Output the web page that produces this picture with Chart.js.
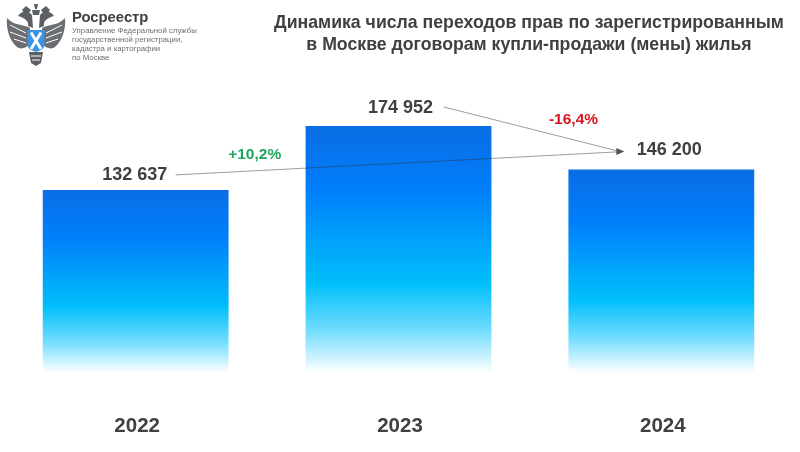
<!DOCTYPE html>
<html lang="ru">
<head>
<meta charset="utf-8">
<title>Динамика числа переходов прав</title>
<script src="https://cdn.jsdelivr.net/npm/chart.js@4"></script>
<style>
  body { margin: 0; background: #fff; font-family: "Liberation Sans", Arial, sans-serif; }
  #wrap { position: relative; width: 800px; height: 452px; overflow: hidden; }
  #chart { position: absolute; left: 0; top: 0; }
  .title { position: absolute; left: 259px; width: 540px; text-align: center; font-weight: bold; font-size: 17.7px; line-height: 22px; color: #404040; white-space: nowrap; }
  .brand { position: absolute; left: 72px; top: 9px; font: bold 14.8px "Liberation Sans", Arial, sans-serif; color: #3f3f3f; }
  .sub { position: absolute; left: 72px; top: 26px; font-size: 7.8px; line-height: 9.1px; color: #6f6f6f; white-space: nowrap; }
  svg { position: absolute; left: 6px; top: 2px; }
</style>
</head>
<body>
<div id="wrap">
  <canvas id="chart" width="800" height="452"></canvas>
  <svg width="60" height="66" viewBox="0 0 60 66">
    <!-- крылья -->
    <path d="M24 26 C18 22 8 24 1 16 C0 26 3 38 11 45 C15 48 20 46 24 42 Z" fill="#6b6f73"/>
    <path d="M36 26 C42 22 52 24 59 16 C60 26 57 38 49 45 C45 48 40 46 36 42 Z" fill="#6b6f73"/>
    <path d="M4 23 L20 31 M4 30 L20 36 M8 37 L20 41 M56 23 L40 31 M56 30 L40 36 M52 37 L40 41" stroke="#fff" stroke-width="1"/>
    <!-- головы и короны -->
    <path d="M12 14 C15 9 22 8 26 13 L27 26 L22 24 C23 19 19 16 12 14 Z" fill="#5c6064"/>
    <path d="M48 14 C45 9 38 8 34 13 L33 26 L38 24 C37 19 41 16 48 14 Z" fill="#5c6064"/>
    <path d="M16 8 L20 4 L25 8 L23 11 L18 11 Z M44 8 L40 4 L35 8 L37 11 L42 11 Z" fill="#5c6064"/>
    <path d="M26 8 L34 8 L33 13 L27 13 Z M28 2 L32 2 L31 7 L29 7 Z" fill="#5c6064"/>
    <!-- хвост и лапы -->
    <path d="M23 50 L37 50 L35 61 L30 64 L25 61 Z" fill="#5c6064"/>
    <path d="M25 54 L35 54 M26 58 L34 58" stroke="#fff" stroke-width="1"/>
    <!-- щит -->
    <path d="M21.5 28 L38.5 28 L38.5 43 C38.5 47 33 49 30 50 C27 49 21.5 47 21.5 43 Z" fill="#3d93e6"/>
    <path d="M25 30.5 L35 47 M35 30.5 L25 47" stroke="#fff" stroke-width="2.8"/>
  </svg>
  <div class="brand">Росреестр</div>
  <div class="sub">Управление Федеральной службы<br>государственной регистрации,<br>кадастра и картографии<br>по Москве</div>
  <div class="title" style="top:11px">Динамика числа переходов прав по зарегистрированным</div>
  <div class="title" style="top:33px">в Москве договорам купли-продажи (мены) жилья</div>
</div>
<script>
const years = ['2022', '2023', '2024'];
const deals = [132637, 174952, 146200];
const valueLabels = ['132 637', '174 952', '146 200'];
const changeLabels = ['+10,2%', '-16,4%'];

const textColor = '#404040';

// градиент считается для каждого столбика отдельно, низ уходит в белый выше оси
function barGradient(context) {
    const chart = context.chart;
    const area = chart.chartArea;
    if (!area || context.raw === undefined) return '#0a6de4';
    const top = chart.scales.y.getPixelForValue(context.raw);
    const g = chart.ctx.createLinearGradient(0, top, 0, area.bottom - 18);
    g.addColorStop(0, '#0a6de4');
    g.addColorStop(0.26, '#007ffb');
    g.addColorStop(0.64, '#00bffa');
    g.addColorStop(0.83, '#72dcfe');
    g.addColorStop(1, '#ffffff');
    return g;
}

function drawLine(ctx, x1, y1, x2, y2) {
    ctx.beginPath();
    ctx.moveTo(x1, y1);
    ctx.lineTo(x2, y2);
    ctx.stroke();
}

const annotations = {
    id: 'annotations',
    afterDatasetsDraw(chart) {
        const ctx = chart.ctx;
        const bars = chart.getDatasetMeta(0).data;
        const labelOffsets = [[-1, -15], [2, -18], [8, -19]];

        ctx.save();
        ctx.textAlign = 'center';
        ctx.textBaseline = 'middle';
        ctx.font = 'bold 18px "Liberation Sans", Arial, sans-serif';
        ctx.fillStyle = textColor;
        bars.forEach((bar, i) => {
            ctx.fillText(valueLabels[i], bar.x + labelOffsets[i][0], bar.y + labelOffsets[i][1]);
        });

        // стрелки от подписей к значению 2024
        const tipX = bars[2].x - 37;
        const tipY = bars[2].y - 18;
        ctx.strokeStyle = 'rgba(50,50,60,0.48)';
        ctx.lineWidth = 1;
        drawLine(ctx, bars[0].x + 40, bars[0].y - 15, tipX - 7, tipY + 0.5);
        drawLine(ctx, bars[1].x + 45, bars[1].y - 19, tipX - 7, tipY - 0.5);
        ctx.fillStyle = '#555';
        ctx.beginPath();
        ctx.moveTo(tipX, tipY);
        ctx.lineTo(tipX - 8, tipY - 3.5);
        ctx.lineTo(tipX - 8, tipY + 3.5);
        ctx.closePath();
        ctx.fill();

        ctx.font = 'bold 15.5px "Liberation Sans", Arial, sans-serif';
        ctx.fillStyle = '#1fa65f';
        ctx.fillText(changeLabels[0], bars[0].x + 119, bars[0].y - 35);
        ctx.fillStyle = '#d8141f';
        ctx.fillText(changeLabels[1], bars[1].x + 175, bars[1].y - 6);
        ctx.restore();
    }
};

new Chart(document.getElementById('chart'), {
    type: 'bar',
    data: {
        labels: years,
        datasets: [{
            data: deals,
            backgroundColor: barGradient,
            borderWidth: 0,
            barPercentage: 0.707,
            categoryPercentage: 1
        }]
    },
    options: {
        responsive: false,
        animation: false,
        layout: { padding: { top: 88, left: 4.25, right: 7.25, bottom: 0 } },
        plugins: { legend: { display: false }, tooltip: { enabled: false } },
        scales: {
            x: {
                grid: { display: false, drawTicks: false },
                border: { display: false },
                afterFit(scale) { scale.height = 61.4; },
                ticks: {
                    padding: 23.4,
                    labelOffset: 1.5,
                    color: textColor,
                    font: { family: '"Liberation Sans", Arial, sans-serif', size: 20.5, weight: 'bold' }
                }
            },
            y: { display: false, min: 0, max: 200000 }
        }
    },
    plugins: [annotations]
});
</script>
</body>
</html>
